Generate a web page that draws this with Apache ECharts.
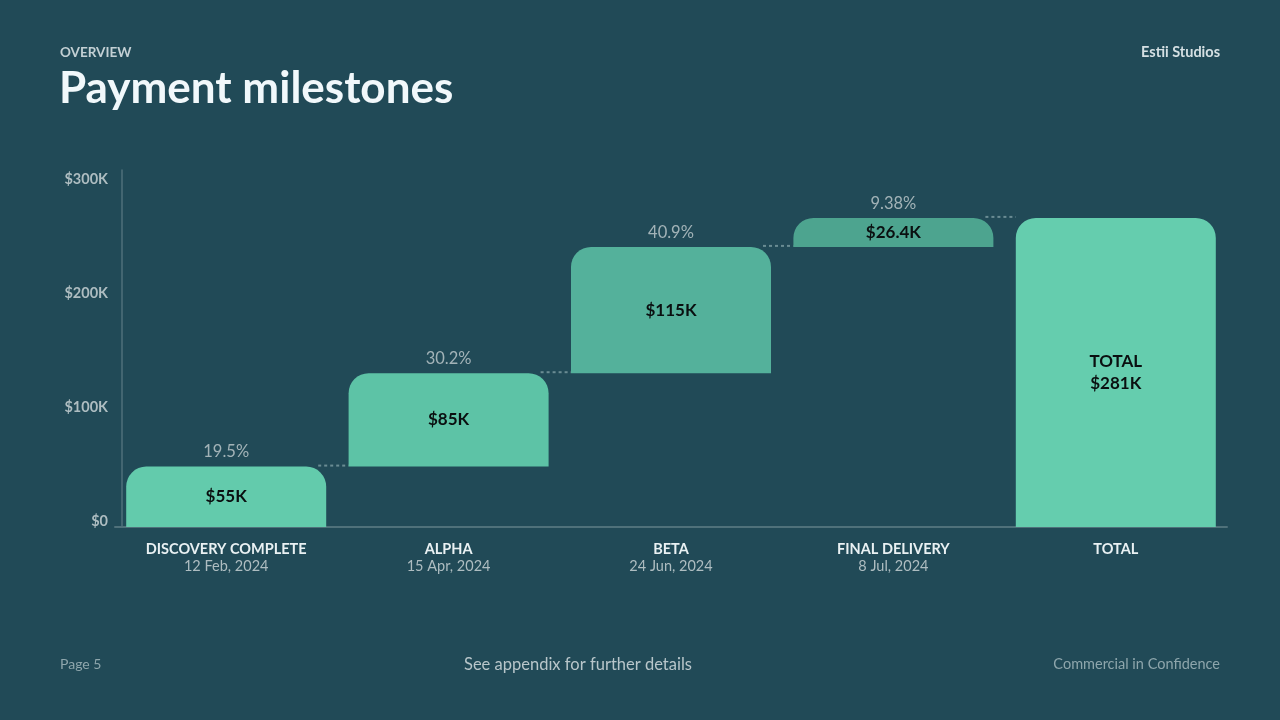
<!DOCTYPE html>
<html>
<head>
<meta charset="utf-8">
<script src="https://cdn.jsdelivr.net/npm/echarts@6/dist/echarts.min.js"></script>
<style>
html,body{margin:0;padding:0;background:#214a57;}
#chart{width:1280px;height:720px;}
</style>
</head>
<body>
<div id="chart"></div>
<script>
// ---- data ----
const categories = ['DISCOVERY COMPLETE', 'ALPHA', 'BETA', 'FINAL DELIVERY', 'TOTAL'];
const dates = ['12 Feb, 2024', '15 Apr, 2024', '24 Jun, 2024', '8 Jul, 2024', ''];
const milestoneValues = [55, 85, 115, 26.4];   // $K
const totalValue = 281.4;                      // $K
const valueLabels = ['$55K', '$85K', '$115K', '$26.4K', 'TOTAL\n$281K'];
const percentLabels = ['19.5%', '30.2%', '40.9%', '9.38%'];
const yTickLabels = ['$0', '$100K', '$200K', '$300K'];
const barColors = ['#63cbac', '#5dc3a6', '#54b19b', '#4da48f', '#65cdae'];

// ---- derived for the waterfall ----
const bases = [];
const tops = [];
let run = 0;
milestoneValues.forEach(v => { bases.push(run); run += v; tops.push(run); });
bases.push(0);
const barVals = milestoneValues.concat([totalValue]);

const FONT = 'Lato, "Noto Sans", sans-serif';

const chart = echarts.init(document.getElementById('chart'));
chart.setOption({
  backgroundColor: '#214a57',
  animation: false,
  textStyle: { fontFamily: FONT },
  graphic: [
    { type: 'text', left: 60, top: 46, style: { text: 'OVERVIEW', font: 'bold 13.5px ' + FONT, fill: '#c3d0d4' } },
    { type: 'text', left: 59, top: 67, style: { text: 'Payment milestones', font: 'bold 44px ' + FONT, fill: '#f1f8fb' } },
    { type: 'text', right: 60, top: 45, style: { text: 'Estii Studios', font: 'bold 14.5px ' + FONT, fill: '#d5e0e3' } },
    { type: 'text', left: 60, top: 657, style: { text: 'Page 5', font: '14px ' + FONT, fill: '#8ea6ac' } },
    { type: 'text', left: 464, top: 656, style: { text: 'See appendix for further details', font: '16.5px ' + FONT, fill: '#b8c6ca' } },
    { type: 'text', right: 60, top: 657, style: { text: 'Commercial in Confidence', font: '14.5px ' + FONT, fill: '#8ea6ac' } }
  ],
  grid: { left: 115, right: 53, top: 170, bottom: 193 },
  xAxis: {
    type: 'category',
    data: categories,
    axisLine: { show: true, lineStyle: { color: '#4f717a', width: 2 } },
    axisTick: { show: false },
    axisLabel: {
      interval: 0,
      margin: 14,
      formatter: (v, i) => dates[i] ? '{a|' + v + '}\n{b|' + dates[i] + '}' : '{a|' + v + '}',
      rich: {
        a: { fontFamily: FONT, fontWeight: 'bold', fontSize: 14.5, color: '#e9f1f3', lineHeight: 17 },
        b: { fontFamily: FONT, fontSize: 14.5, color: '#aebdc1', lineHeight: 17 }
      }
    }
  },
  yAxis: [
    {
      type: 'value', min: 0, max: 325, interval: 100,
      offset: -7,
      axisLine: { show: true, lineStyle: { color: '#4f717a', width: 1.5 } },
      axisTick: { show: false },
      axisLabel: { show: false },
      splitLine: { show: false }
    },
    {
      type: 'value', position: 'left', min: 0, max: 313, interval: 100,
      offset: -7,
      axisLine: { show: false },
      axisTick: { show: false },
      splitLine: { show: false },
      axisLabel: {
        margin: 14,
        showMaxLabel: false,
        verticalAlign: 'bottom',
        lineHeight: 11,
        fontFamily: FONT, fontWeight: 'bold', fontSize: 14.5, color: '#aebdc1',
        formatter: (v) => (v % 100 === 0 ? yTickLabels[v / 100] : '')
      }
    }
  ],
  series: [
    {
      type: 'bar', stack: 'w', yAxisIndex: 0, barWidth: 200,
      itemStyle: { color: 'transparent' },
      emphasis: { disabled: true },
      data: bases
    },
    {
      type: 'bar', stack: 'w', yAxisIndex: 0, barWidth: 200,
      data: barVals.map((v, i) => ({ value: v, itemStyle: { color: barColors[i], borderRadius: [20, 20, 0, 0] } })),
      label: {
        show: true, position: 'inside',
        fontFamily: FONT, fontWeight: 'bold', fontSize: 17, color: '#0a0f10', lineHeight: 22,
        formatter: (p) => valueLabels[p.dataIndex]
      }
    },
    {
      type: 'custom', yAxisIndex: 0,
      data: tops.map((t, i) => [i, t]),
      renderItem: function (params, api) {
        const i = api.value(0), y = api.value(1);
        const p1 = api.coord([i, y]);
        const p2 = api.coord([i + 1, y]);
        const half = 100;
        return {
          type: 'line',
          shape: { x1: p1[0] + half - 8, y1: p1[1] - 1, x2: p2[0] - half, y2: p2[1] - 1 },
          style: { stroke: '#6a8c93', lineWidth: 2, lineDash: [3, 3] },
          z2: -1
        };
      }
    },
    {
      type: 'scatter', yAxisIndex: 0, symbolSize: 0,
      data: tops.map((t, i) => [i, t]),
      label: {
        show: true, position: 'top', distance: 6,
        fontFamily: FONT, fontSize: 16.5, color: '#c3cdd0',
        formatter: (p) => percentLabels[p.dataIndex]
      }
    }
  ]
});
</script>
</body>
</html>
